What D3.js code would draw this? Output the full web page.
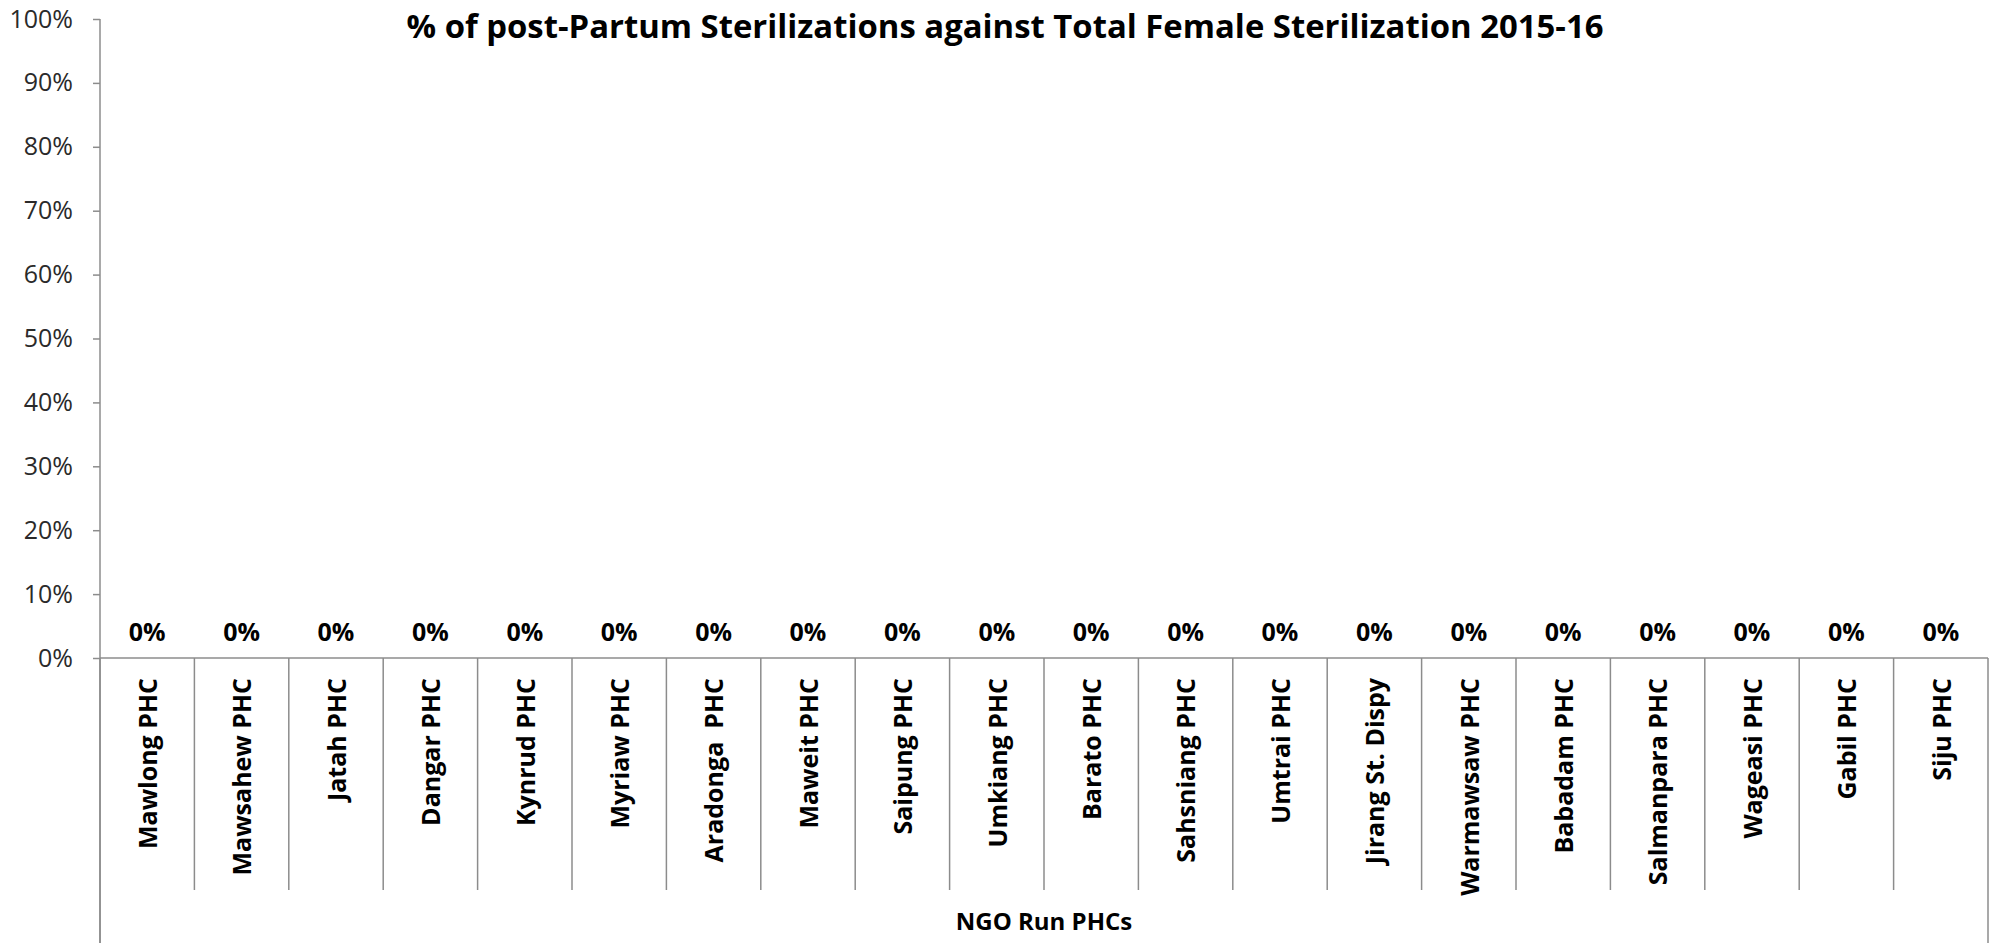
<!DOCTYPE html>
<html>
<head>
<meta charset="utf-8">
<script src="https://cdn.jsdelivr.net/npm/d3@7"></script>
<style>
  html, body { margin: 0; padding: 0; background: #ffffff; }
  svg { display: block; }
</style>
</head>
<body>
<script>
const categories = ["Mawlong PHC", "Mawsahew PHC", "Jatah PHC", "Dangar PHC", "Kynrud PHC",
  "Myriaw PHC", "Aradonga  PHC", "Maweit PHC", "Saipung PHC", "Umkiang PHC",
  "Barato PHC", "Sahsniang PHC", "Umtrai PHC", "Jirang St. Dispy", "Warmawsaw PHC",
  "Babadam PHC", "Salmanpara PHC", "Wageasi PHC", "Gabil PHC", "Siju PHC"];
const values = [0, 0, 0, 0, 0, 0, 0, 0, 0, 0, 0, 0, 0, 0, 0, 0, 0, 0, 0, 0];
const yTicks = [0, 0.1, 0.2, 0.3, 0.4, 0.5, 0.6, 0.7, 0.8, 0.9, 1.0];
const title = "% of post-Partum Sterilizations against Total Female Sterilization 2015-16";
const groupLabel = "NGO Run PHCs";

(function () {
const W = 2007, H = 948;
const plotLeft = 100, plotRight = 1988, plotTop = 19, plotBase = 658;
const sepBottom = 890, outerBottom = 943;
const axisColor = "#8c8c8c";
const font = "'Open Sans', 'Liberation Sans', sans-serif";

const svg = d3.select("body").append("svg")
  .attr("width", W).attr("height", H)
  .style("font-family", font);

svg.append("rect").attr("width", W).attr("height", H).attr("fill", "#ffffff");

const x = d3.scaleBand().domain(categories).range([plotLeft, plotRight]).padding(0);
const y = d3.scaleLinear().domain([0, 1]).range([plotBase, plotTop]);

// title
svg.append("text")
  .attr("x", 1005).attr("y", 38)
  .attr("text-anchor", "middle")
  .attr("font-size", 32).attr("font-weight", "bold").attr("fill", "#000")
  .attr("textLength", 1197).attr("lengthAdjust", "spacingAndGlyphs")
  .text(title);

// y axis
const yAxis = svg.append("g")
  .attr("transform", `translate(${plotLeft},0)`)
  .call(d3.axisLeft(y).tickValues(yTicks).tickFormat(d3.format(".0%")).tickSize(7).tickSizeOuter(0).tickPadding(20));
yAxis.select(".domain").remove();
yAxis.selectAll(".tick line").attr("stroke", axisColor).attr("stroke-width", 1.5);
yAxis.selectAll(".tick text")
  .attr("font-size", 25).attr("font-family", font).attr("fill", "#2a2a2a");

// vertical axis line (extends to bottom)
svg.append("line")
  .attr("x1", plotLeft).attr("x2", plotLeft).attr("y1", plotTop).attr("y2", outerBottom)
  .attr("stroke", axisColor).attr("stroke-width", 1.5);

// horizontal baseline
svg.append("line")
  .attr("x1", plotLeft).attr("x2", plotRight).attr("y1", y(0)).attr("y2", y(0))
  .attr("stroke", axisColor).attr("stroke-width", 1.5);

// category separators
const boundaries = categories.map(c => x(c)).concat([x(categories[categories.length - 1]) + x.bandwidth()]);
svg.append("g").selectAll("line")
  .data(boundaries)
  .join("line")
  .attr("x1", d => d).attr("x2", d => d)
  .attr("y1", y(0))
  .attr("y2", (d, i) => (i === 0 || i === boundaries.length - 1) ? outerBottom : sepBottom)
  .attr("stroke", axisColor).attr("stroke-width", 1.5);

// bars (zero height)
svg.append("g").selectAll("rect")
  .data(values)
  .join("rect")
  .attr("x", (d, i) => x(categories[i]) + x.bandwidth() * 0.2)
  .attr("width", x.bandwidth() * 0.6)
  .attr("y", d => y(d))
  .attr("height", d => y(0) - y(d))
  .attr("fill", "#4f81bd");

// data labels
svg.append("g").selectAll("text")
  .data(values)
  .join("text")
  .attr("x", (d, i) => x(categories[i]) + x.bandwidth() / 2)
  .attr("y", d => y(d) - 17)
  .attr("text-anchor", "middle")
  .attr("font-size", 25).attr("font-weight", "bold").attr("fill", "#000")
  .text(d => d3.format(".0%")(d));

// category labels (rotated)
svg.append("g").selectAll("text")
  .data(categories)
  .join("text")
  .attr("transform", d => `translate(${x(d) + x.bandwidth() / 2 + 1},678) rotate(-90)`)
  .attr("dy", "0.35em")
  .attr("text-anchor", "end")
  .attr("font-size", 25).attr("font-weight", "bold").attr("fill", "#000")
  .style("white-space", "pre")
  .text(d => d);

// group label
svg.append("text")
  .attr("x", (plotLeft + plotRight) / 2).attr("y", 930)
  .attr("text-anchor", "middle")
  .attr("font-size", 24).attr("font-weight", "bold").attr("fill", "#000")
  .text(groupLabel);
})();
</script>
</body>
</html>
